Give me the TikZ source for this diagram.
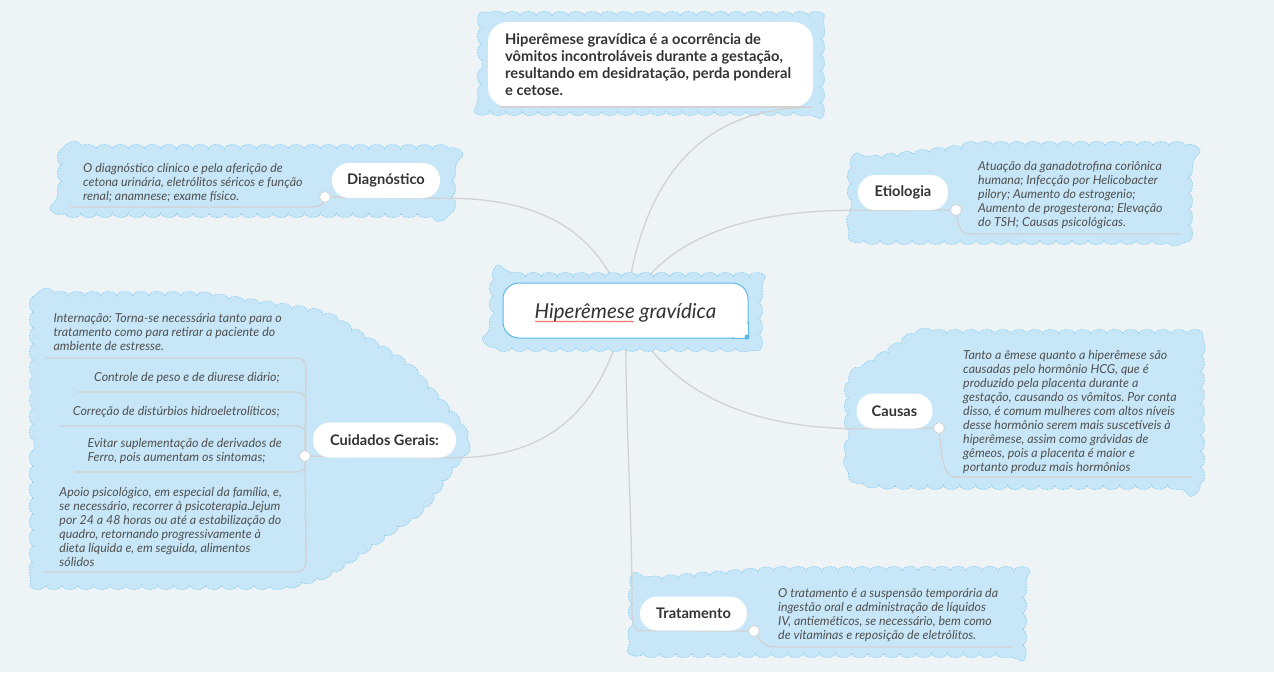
\documentclass[tikz,border=0pt]{standalone}
\usepackage{fontspec}
\setmainfont{Lato}
\frenchspacing
\usetikzlibrary{decorations.pathmorphing}
\definecolor{bgc}{HTML}{EEF3F6}
\definecolor{cloudf}{HTML}{C7E7F8}
\definecolor{cloudd}{HTML}{8FD0F1}
\definecolor{linec}{HTML}{D2D2D2}
\definecolor{txt}{HTML}{333333}
\definecolor{itxt}{HTML}{505050}
\definecolor{ctrb}{HTML}{5AB9EA}
\pgfdeclarelayer{bgl}
\pgfdeclarelayer{clouds}
\pgfdeclarelayer{lines}
\pgfsetlayers{bgl,clouds,lines,main}
\begin{document}
\begin{tikzpicture}[x=1pt,y=-1pt,
  cloudshape/.style={fill=cloudf, draw=cloudd, line width=0.7pt, dash pattern=on 1.6pt off 1.2pt,
    decorate, decoration={bumps, segment length=32pt, amplitude=4.5pt}},
  conn/.style={draw=linec, line width=1.3pt},
  pill/.style={fill=white, rounded corners=17pt, minimum height=35pt, inner sep=0pt,
    font=\bfseries\fontsize{14.6}{16}\selectfont, text=txt},
  dotn/.style={circle, fill=white, draw=linec, line width=0.8pt, minimum size=11pt, inner sep=0pt},
  itext/.style={font=\itshape\fontsize{12.4}{14}\selectfont, text=itxt, align=left, inner sep=0pt},
  boldtext/.style={font=\bfseries\fontsize{14.7}{17}\selectfont, text=txt, align=left, inner sep=0pt},
  ctrbox/.style={draw=ctrb, fill=white, line width=1pt, rounded corners=16pt, minimum width=245pt,
    minimum height=55pt, inner sep=0pt},
  ctrtext/.style={font=\itshape\fontsize{20.5}{22}\selectfont, text=txt, inner sep=0pt},
  topboxst/.style={fill=white, rounded corners=20pt, minimum width=325pt, minimum height=85pt, inner sep=0pt}
]
\useasboundingbox (0,0) rectangle (1274,672);
\begin{pgfonlayer}{bgl}
\fill[bgc] (0,0) rectangle (1274,672);
\end{pgfonlayer}

% ---------- clouds ----------
\begin{pgfonlayer}{clouds}
\path[cloudshape] (482,60) -- (482,28) .. controls (482,16) .. (494,16) -- (808,16) .. controls (820,16) .. (820,28) -- (820,99) .. controls (820,111) .. (808,111) -- (494,111) .. controls (482,111) .. (482,99) -- cycle;
\path[cloudshape] (62,181) -- (62,161) .. controls (62,149) .. (74,149) -- (439,149) .. controls (451,149) .. (451,161) -- (451,201) .. controls (451,213) .. (439,213) -- (74,213) .. controls (62,213) .. (62,201) -- cycle;
\path[cloudshape] (852,200) -- (852,178) .. controls (852,165) .. (866,161) -- (955,150) .. controls (970,146) .. (985,146) -- (1176,146) .. controls (1188,146) .. (1188,158) -- (1188,228) .. controls (1188,240) .. (1176,240) -- (890,240) .. controls (852,240) .. (852,215) -- cycle;
\path[cloudshape] (849,430) -- (849,400) .. controls (849,380) .. (870,365) -- (900,345) .. controls (915,334) .. (935,334) -- (1188,334) .. controls (1200,334) .. (1200,346) -- (1200,473) .. controls (1200,485) .. (1188,485) -- (930,485) .. controls (849,485) .. (849,440) -- cycle;
\path[cloudshape] (633,620) -- (633,595) .. controls (633,583) .. (650,581) -- (760,572) .. controls (770,571) .. (780,571) -- (1010,571) .. controls (1022,571) .. (1022,583) -- (1022,641) .. controls (1022,653) .. (1010,653) -- (660,653) .. controls (633,653) .. (633,630) -- cycle;
\path[cloudshape] (34,440) -- (34,310) .. controls (34,296) .. (48,296) -- (185,296) .. controls (200,296) .. (215,298) -- (305,311) .. controls (320,314) .. (334,320) -- (395,358) .. controls (412,370) .. (424,385) -- (456,420) .. controls (468,440) .. (456,460) -- (432,495) .. controls (422,508) .. (408,518) -- (345,562) .. controls (330,572) .. (312,578) -- (295,583) .. controls (288,585) .. (278,585) -- (48,585) .. controls (34,585) .. (34,571) -- cycle;
\end{pgfonlayer}

% ---------- centre ----------
\path[cloudshape] (494,312) -- (494,289) .. controls (494,277) .. (506,277) -- (746,277) .. controls (758,277) .. (758,289) -- (758,335) .. controls (758,347) .. (746,347) -- (506,347) .. controls (494,347) .. (494,335) -- cycle;
\node[ctrbox] (ctr) at (625.5,310.5) {};
\fill[white] (734,324) rectangle (748.5,338.5);
\draw[ctrb, line width=1pt] (732,338) -- (748,338) -- (748,322);
\fill[ctrb] (747,337) circle (2.5);
\node[ctrtext, anchor=base] (ctrlabel) at (625.5,318.5) {Hiperêmese gravídica};
\draw[red!75, line width=0.5pt, decorate, decoration={snake, amplitude=0.6pt, segment length=2.4pt}] (535,321.5) -- (634,321.5);

% ---------- top box ----------
\node[topboxst] (top) at (650.5,64.5) {};
\node[boldtext, anchor=west] (toptext) at (505,65) {Hiperêmese gravídica é a ocorrência de\\vômitos incontroláveis durante a gestação,\\resultando em desidratação, perda ponderal\\e cetose.};
\draw[conn] (500,107) -- (806,107);

% ---------- pills ----------
\node[pill, minimum width=108pt] (diag) at (386,180.5) {Diagnóstico};
\node[pill, minimum width=90pt] (etio) at (903,192.5) {Etiologia};
\node[pill, minimum width=143pt] (cuid) at (384.5,440) {Cuidados Gerais:};
\node[pill, minimum width=76pt] (caus) at (894.5,411) {Causas};
\node[pill, minimum width=107pt, minimum height=34pt] (trat) at (693.5,613.5) {Tratamento};

\node[dotn] (dc) at (325,197) {};
\node[dotn] (ec) at (956,210) {};
\node[dotn] (cc) at (305,456) {};
\node[dotn] (kc) at (939,428) {};
\node[dotn] (tc) at (754,631) {};

% ---------- texts ----------
\node[itext, anchor=west] (diagtext) at (83,183) {O diagnóstico clínico e pela aferição de\\cetona urinária, eletrólitos séricos e função\\renal; anamnese; exame físico.};
\node[itext, anchor=west] (etiotext) at (978,195) {Atuação da ganadotrofina coriônica\\humana; Infecção por Helicobacter\\pilory; Aumento do estrogenio;\\Aumento de progesterona; Elevação\\do TSH; Causas psicológicas.};
\node[itext, anchor=west] (caustext) at (963,411.5) {Tanto a êmese quanto a hiperêmese são\\causadas pelo hormônio HCG, que é\\produzido pela placenta durante a\\gestação, causando os vômitos. Por conta\\disso, é comum mulheres com altos níveis\\desse hormônio serem mais suscetíveis à\\hiperêmese, assim como grávidas de\\gêmeos, pois a placenta é maior e\\portanto produz mais hormônios};
\node[itext, anchor=west] (trattext) at (778,615.5) {O tratamento é a suspensão temporária da\\ingestão oral e administração de líquidos\\IV, antieméticos, se necessário, bem como\\de vitaminas e reposição de eletrólitos.};
\node[itext, anchor=east] (c1) at (282,332) {Internação: Torna-se necessária tanto para o\\tratamento como para retirar a paciente do\\ambiente de estresse.};
\node[itext, anchor=east] (c2) at (280,378) {Controle de peso e de diurese diário;};
\node[itext, anchor=east] (c3) at (280,412) {Correção de distúrbios hidroeletrolíticos;};
\node[itext, anchor=east] (c4) at (282,451) {Evitar suplementação de derivados de\\Ferro, pois aumentam os sintomas;};
\node[itext, anchor=east] (c5) at (282,526.5) {Apoio psicológico, em especial da família, e,\\se necessário, recorrer à psicoterapia.Jejum\\por 24 a 48 horas ou até a estabilização do\\quadro, retornando progressivamente à\\dieta líquida e, em seguida, alimentos\\sólidos};

% ---------- connectors ----------
\begin{pgfonlayer}{lines}
\draw[conn] (ctr.center) .. controls (640,180) and (700,107) .. (top.south east);
\draw[conn] (ctr.center) .. controls (600,230) and (540,197) .. (diag.south east) -- (dc);
\draw[conn] (ctr.center) .. controls (660,240) and (740,210) .. (etio.south west) -- (ec);
\draw[conn] (ctr.center) .. controls (670,400) and (760,428) .. (caus.south west) -- (kc);
\draw[conn] (ctr.center) .. controls (600,420) and (540,457) .. (cuid.south east) -- (cc);
\draw[conn] (ctr.center) .. controls (626,450) and (632,500) .. (632,610) .. controls (632,628) and (636,631) .. (trat.south west) -- (tc);
% underlines
\draw[conn] (dc) .. controls (322,205) and (318,207) .. (310,207) -- (70,207);
\draw[conn] (ec) .. controls (958,225) and (960,234) .. (970,234) -- (1180,234);
\draw[conn] (kc) .. controls (942,460) and (944,477) .. (955,477) -- (1192,477);
\draw[conn] (tc) .. controls (760,640) and (764,647) .. (775,647) -- (1013,647);
\draw[conn] (45,358) -- (296,358) .. controls (305,358) and (306,364) .. (306,372) -- (cc);
\draw[conn] (77,392) -- (296,392) .. controls (305,392) and (306,398) .. (306,406) -- (cc);
\draw[conn] (59,426) -- (296,426) .. controls (305,426) and (306,432) .. (306,440) -- (cc);
\draw[conn] (75,472) -- (296,472) .. controls (305,472) and (306,467) .. (cc);
\draw[conn] (43,572) -- (296,572) .. controls (305,572) and (306,566) .. (306,558) -- (cc);
\end{pgfonlayer}
\end{tikzpicture}
\end{document}
